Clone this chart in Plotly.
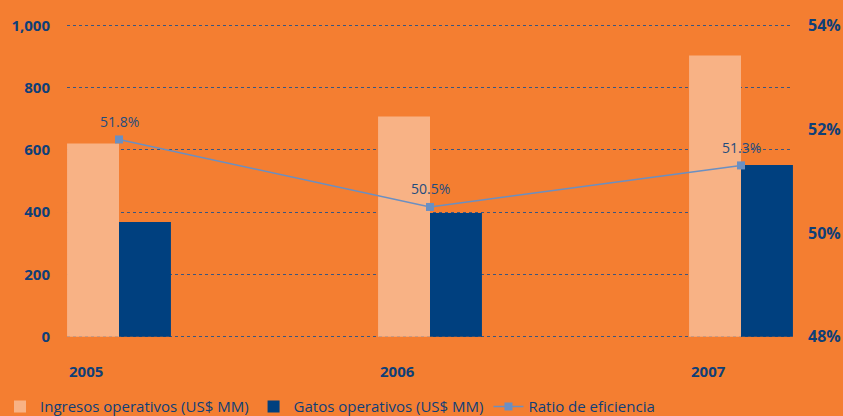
import plotly.graph_objects as go

# Annual figures
years = ["2005", "2006", "2007"]
ingresos = [620, 707, 903]          # Ingresos operativos (US$ MM)
gastos = [368, 397, 551]            # Gatos operativos (US$ MM)
ratio = [51.8, 50.5, 51.3]          # Ratio de eficiencia (%)
ratio_labels = ["51.8%", "50.5%", "51.3%"]
ratio_ticks = [48, 50, 52, 54]

ORANGE = "#F47E31"
LIGHT = "#F8B285"
NAVY = "#00407F"
LINE = "#6A8FC2"
TEXT = "#0E3F78"
FONT = "Open Sans"

xpos = list(range(len(years)))
bw = 0.167

# small padding on the value range so the 0 and 1,000 gridlines are drawn
pad = 4
y_lo, y_hi = 0, 1000
r_lo, r_hi = 48, 54
r_pad = pad * (r_hi - r_lo) / (y_hi - y_lo)

fig = go.Figure()
fig.add_trace(go.Bar(
    x=xpos, y=ingresos, name="Ingresos operativos (US$ MM)",
    marker=dict(color=LIGHT, line=dict(width=0)),
    width=bw, offset=-bw,
))
fig.add_trace(go.Bar(
    x=xpos, y=gastos, name="Gatos operativos (US$ MM)",
    marker=dict(color=NAVY, line=dict(width=0)),
    width=bw, offset=0,
))
fig.add_trace(go.Scatter(
    x=xpos, y=ratio, name="Ratio de eficiencia", yaxis="y2",
    mode="lines+markers",
    line=dict(color=LINE, width=1.5),
    marker=dict(symbol="square", size=8, color=LINE),
))

# Ratio value labels above each point
for xv, yv, lbl in zip(xpos, ratio, ratio_labels):
    fig.add_annotation(
        x=xv, y=yv, xref="x", yref="y2", text=lbl, showarrow=False,
        yshift=18, font=dict(family=FONT, size=14, color="#1F4C7E"),
    )

# Year labels aligned with the left edge of each bar group
for i, yr in enumerate(years):
    fig.add_annotation(
        x=i - bw, y=-0.105, xref="x", yref="paper",
        text="<b>" + yr + "</b>", showarrow=False,
        xanchor="left", yanchor="middle",
        font=dict(family=FONT, size=15, color=TEXT),
    )

fig.update_layout(
    width=843, height=416,
    paper_bgcolor=ORANGE, plot_bgcolor=ORANGE,
    margin=dict(l=67, r=50, t=24, b=78, autoexpand=False),
    barmode="overlay",
    showlegend=True,
    legend=dict(
        orientation="h", xref="container", x=-0.008, xanchor="left",
        yref="container", y=0.062, yanchor="top",
        font=dict(family=FONT, size=15, color=TEXT),
        bgcolor="rgba(0,0,0,0)", itemwidth=30,
        traceorder="normal",
    ),
    xaxis=dict(
        range=[-bw - 0.0002, 2 + bw + 0.0002],
        showgrid=False, zeroline=False, showticklabels=False, ticks="",
        showline=False,
    ),
    yaxis=dict(
        range=[y_lo - pad, y_hi + pad], dtick=200, tickformat=",d",
        showgrid=True, gridcolor="#3A5680", griddash="dot", gridwidth=1,
        zeroline=False, showline=False, ticks="",
        ticklabelstandoff=16,
        tickfont=dict(family=FONT, size=15, color=TEXT, weight="bold"),
    ),
    yaxis2=dict(
        overlaying="y", side="right",
        range=[r_lo - r_pad, r_hi + r_pad],
        tickmode="array", tickvals=ratio_ticks,
        ticktext=[f"{t}%" for t in ratio_ticks],
        showgrid=False, zeroline=False, showline=False, ticks="",
        ticklabelstandoff=14,
        tickfont=dict(family=FONT, size=16, color=TEXT, weight="bold"),
    ),
)

fig.write_html("out.html")
